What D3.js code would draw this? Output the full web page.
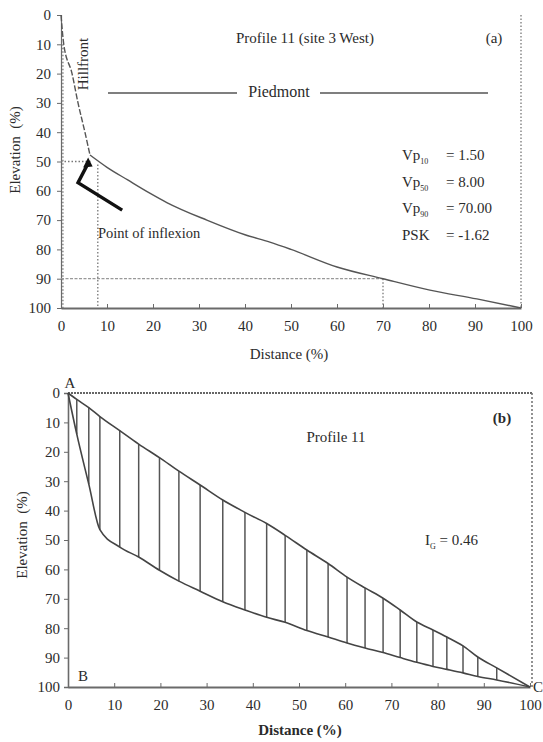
<!DOCTYPE html>
<html>
<head>
<meta charset="utf-8">
<script src="https://cdn.jsdelivr.net/npm/d3@7"></script>
<style>
  html, body { margin: 0; padding: 0; background: #fff; }
  svg { display: block; }
  text { font-family: "Liberation Serif", "DejaVu Serif", serif; fill: #2b2b2b; }
</style>
</head>
<body>
<svg id="chart" width="543" height="742"></svg>
<script>
// ---- data ----
const ticks = [0, 10, 20, 30, 40, 50, 60, 70, 80, 90, 100];

// Profile 11, hillfront segment (distance %, elevation %)
const hillDist = [0, 0.6, 2.4, 3.7, 5.2, 6.3];
const hillElev = [0, 10, 20, 30, 40, 47.8];

// Profile 11, piedmont segment
const pieDist = [6.3, 10, 14.5, 19.3, 23, 31.7, 40, 45.4, 50, 60, 70, 80.2, 90.4, 100];
const pieElev = [47.8, 52, 56.3, 60.8, 64, 70, 75, 77.5, 80, 86, 90, 93.9, 96.9, 100];

// Percentile distances
const vpLevels = [10, 50, 90];
const vpValues = [1.5, 8.0, 70.0];
const psk = -1.62;

// Arrow pointing at the inflexion point (distance %, elevation %)
const arrowDist = [13.3, 3.7, 5.9];
const arrowElev = [66.6, 57.2, 48.6];

// Panel (b): hatch positions with the profile (lower) and the reference curve (upper)
const hatchDist  = [0, 1.9, 4.5, 6.9, 11.2, 15.3, 19.8, 24, 28.6, 33.5, 38.3, 43, 47, 51.7, 56.3, 60.4, 64.3, 68.2, 71.9, 75.5, 79, 82, 85.5, 88.7, 92.8, 100];
const lowerElev  = [0, 14, 31, 46.5, 52.4, 55.8, 60.3, 64, 67.4, 71, 73.8, 76.3, 78, 80.8, 83, 85, 86.7, 88.3, 90, 91.6, 93, 94, 95.2, 96.4, 97.6, 100];
const upperElev  = [0, 2.2, 5, 8, 12.8, 17.4, 22, 26.6, 31.3, 36.4, 40.6, 44.4, 48.4, 53.4, 58, 62.6, 66.3, 69.8, 73.8, 77.9, 80.6, 83, 86, 89.8, 93.5, 100];
const igValue = 0.46;

// ---- drawing ----
const svg = d3.select("#chart");
const lineCol = "#555";
const axisCol = "#6a6a6a";
const fs = "15px";

function drawAxes(g, x, y, opts) {
  const yAxis = d3.axisLeft(y).tickValues(ticks).tickSize(4).tickPadding(2);
  const gy = g.append("g").attr("transform", `translate(${x(0)},0)`).call(yAxis);
  const xAxis = d3.axisBottom(x).tickValues(ticks).tickSizeInner(-4).tickSizeOuter(0).tickPadding(12);
  const gx = g.append("g").attr("transform", `translate(0,${y(100)})`).call(xAxis);
  [gx, gy].forEach(a => {
    a.selectAll("text").style("font-size", fs).attr("fill", "#2b2b2b");
    a.selectAll("line").attr("stroke", axisCol);
    a.select(".domain").attr("stroke", axisCol);
  });
  gx.select(".domain").attr("stroke-width", 2.2);
  gy.select(".domain").attr("stroke-width", opts.yw || 1.2);
  gy.selectAll("text").attr("dx", opts.ydx || 0);
}

// ---------- panel (a) ----------
const xa = d3.scaleLinear([0, 100], [61, 521]);
const ya = d3.scaleLinear([0, 100], [15, 308]);
const ga = svg.append("g");

drawAxes(ga, xa, ya, {ydx: -4});

// dotted guides
const dotted = {stroke: "#777", "stroke-width": 1.3, "stroke-dasharray": "1.5,2"};
function guide(g, x1, y1, x2, y2, style) {
  const l = g.append("line").attr("x1", x1).attr("y1", y1).attr("x2", x2).attr("y2", y2);
  Object.entries(style).forEach(([k, v]) => l.attr(k, v));
}
guide(ga, xa(100), ya(0), xa(100), ya(100), dotted);
guide(ga, xa(vpValues[0]) - 5, ya(vpLevels[0]), xa(vpValues[0]) - 5, ya(100), dotted);
guide(ga, xa(0), ya(vpLevels[1]), xa(vpValues[1] - 1.5), ya(vpLevels[1]), dotted);
guide(ga, xa(vpValues[1]), ya(vpLevels[1] + 1), xa(vpValues[1]), ya(100), dotted);
guide(ga, xa(0), ya(vpLevels[2]), xa(vpValues[2]), ya(vpLevels[2]), {stroke: "#999", "stroke-width": 1.2, "stroke-dasharray": "3,1.5"});
guide(ga, xa(vpValues[2]), ya(vpLevels[2]), xa(vpValues[2]), ya(100), dotted);

const lineA = d3.line().x(d => xa(d[0])).y(d => ya(d[1])).curve(d3.curveMonotoneX);
ga.append("path")
  .attr("d", lineA(hillDist.map((d, i) => [d, hillElev[i]])))
  .attr("fill", "none").attr("stroke", lineCol).attr("stroke-width", 1.4)
  .attr("stroke-dasharray", "6,2");
ga.append("path")
  .attr("d", lineA(pieDist.map((d, i) => [d, pieElev[i]])))
  .attr("fill", "none").attr("stroke", lineCol).attr("stroke-width", 1.4);

// arrow
const arrowPts = arrowDist.map((d, i) => [xa(d), ya(arrowElev[i])]);
ga.append("path")
  .attr("d", d3.line()(arrowPts.slice(0, 2).concat([[arrowPts[2][0] - 0.6, arrowPts[2][1] + 7]])))
  .attr("fill", "none").attr("stroke", "#111").attr("stroke-width", 3.4)
  .attr("stroke-linejoin", "miter");
{
  const [tx, ty] = arrowPts[2];
  ga.append("path")
    .attr("d", `M${tx},${ty} L${tx - 5},${ty + 10} L${tx + 4.5},${ty + 9} Z`)
    .attr("fill", "#111");
}

// labels
ga.append("text").attr("x", 305).attr("y", 43).attr("text-anchor", "middle")
  .style("font-size", fs).text("Profile 11 (site 3 West)");
ga.append("text").attr("x", 494).attr("y", 43).attr("text-anchor", "middle")
  .style("font-size", "15px").text("(a)");
ga.append("text").attr("transform", "translate(88,64) rotate(-90)").attr("text-anchor", "middle")
  .style("font-size", "15px").text("Hillfront");
ga.append("text").attr("x", 279).attr("y", 97).attr("text-anchor", "middle")
  .style("font-size", "16px").text("Piedmont");
guide(ga, 108, 93, 237, 93, {stroke: "#555", "stroke-width": 1.6});
guide(ga, 320, 93, 488, 93, {stroke: "#555", "stroke-width": 1.6});

const vpRows = [
  {sub: String(vpLevels[0]), val: vpValues[0].toFixed(2), y: 160},
  {sub: String(vpLevels[1]), val: vpValues[1].toFixed(2), y: 187},
  {sub: String(vpLevels[2]), val: vpValues[2].toFixed(2), y: 213}
];
vpRows.forEach(r => {
  const t = ga.append("text").attr("x", 402).attr("y", r.y).style("font-size", "15px");
  t.append("tspan").text("Vp");
  t.append("tspan").attr("dy", 4).style("font-size", "8px").text(r.sub);
  ga.append("text").attr("x", 446).attr("y", r.y).style("font-size", "15px").text("= " + r.val);
});
ga.append("text").attr("x", 402).attr("y", 240).style("font-size", "15px").text("PSK");
ga.append("text").attr("x", 446).attr("y", 240).style("font-size", "15px").text("= " + psk.toFixed(2));

ga.append("text").attr("x", 98).attr("y", 238).style("font-size", "14.5px").text("Point of inflexion");
ga.append("text").attr("x", 289).attr("y", 359).attr("text-anchor", "middle")
  .style("font-size", "15px").text("Distance (%)");
ga.append("text").attr("transform", "translate(20,150) rotate(-90)").attr("text-anchor", "middle")
  .style("font-size", "15px").attr("xml:space", "preserve").text("Elevation  (%)");

// ---------- panel (b) ----------
const xb = d3.scaleLinear([0, 100], [68, 530]);
const yb = d3.scaleLinear([0, 100], [393, 687]);
const gb = svg.append("g");

drawAxes(gb, xb, yb, {ydx: -2, yw: 1.6});
guide(gb, xb(0), yb(0), xb(100) + 2, yb(0), {stroke: "#666", "stroke-width": 2, "stroke-dasharray": "2,1"});
guide(gb, xb(100) + 2, yb(0), xb(100) + 2, yb(100), {stroke: "#777", "stroke-width": 1.6, "stroke-dasharray": "2,2"});

// hatching between the two curves
gb.selectAll("line.hatch")
  .data(hatchDist.map((d, i) => ({d, lo: lowerElev[i], up: upperElev[i]})).filter(h => h.d > 0 && h.d < 100))
  .join("line").attr("class", "hatch")
  .attr("x1", h => xb(h.d)).attr("x2", h => xb(h.d))
  .attr("y1", h => yb(h.up)).attr("y2", h => yb(h.lo))
  .attr("stroke", "#555").attr("stroke-width", 1.5);

const lineB = d3.line().x(d => xb(d[0])).y(d => yb(d[1])).curve(d3.curveMonotoneX);
gb.append("path")
  .attr("d", lineB(hatchDist.map((d, i) => [d, upperElev[i]])))
  .attr("fill", "none").attr("stroke", "#444").attr("stroke-width", 1.6);
gb.append("path")
  .attr("d", lineB(hatchDist.map((d, i) => [d, lowerElev[i]])))
  .attr("fill", "none").attr("stroke", "#444").attr("stroke-width", 1.6);

gb.append("text").attr("x", 70).attr("y", 388).attr("text-anchor", "middle").style("font-size", "15px").text("A");
gb.append("text").attr("x", 78).attr("y", 681).style("font-size", "15px").text("B");
gb.append("text").attr("x", 533).attr("y", 692).style("font-size", "15px").text("C");
gb.append("text").attr("x", 502).attr("y", 423).attr("text-anchor", "middle")
  .style("font-size", "15px").style("font-weight", "bold").text("(b)");
gb.append("text").attr("x", 336).attr("y", 442).attr("text-anchor", "middle")
  .style("font-size", "15px").text("Profile 11");
{
  const t = gb.append("text").attr("x", 425).attr("y", 545).style("font-size", "15px");
  t.append("tspan").text("I");
  t.append("tspan").attr("dy", 4).style("font-size", "8px").text("G");
  t.append("tspan").attr("dy", -4).text(" = " + igValue.toFixed(2));
}
gb.append("text").attr("x", 300).attr("y", 735).attr("text-anchor", "middle")
  .style("font-size", "15px").style("font-weight", "bold").text("Distance (%)");
gb.append("text").attr("transform", "translate(27,535) rotate(-90)").attr("text-anchor", "middle")
  .style("font-size", "15px").attr("xml:space", "preserve").text("Elevation  (%)");
</script>
</body>
</html>
